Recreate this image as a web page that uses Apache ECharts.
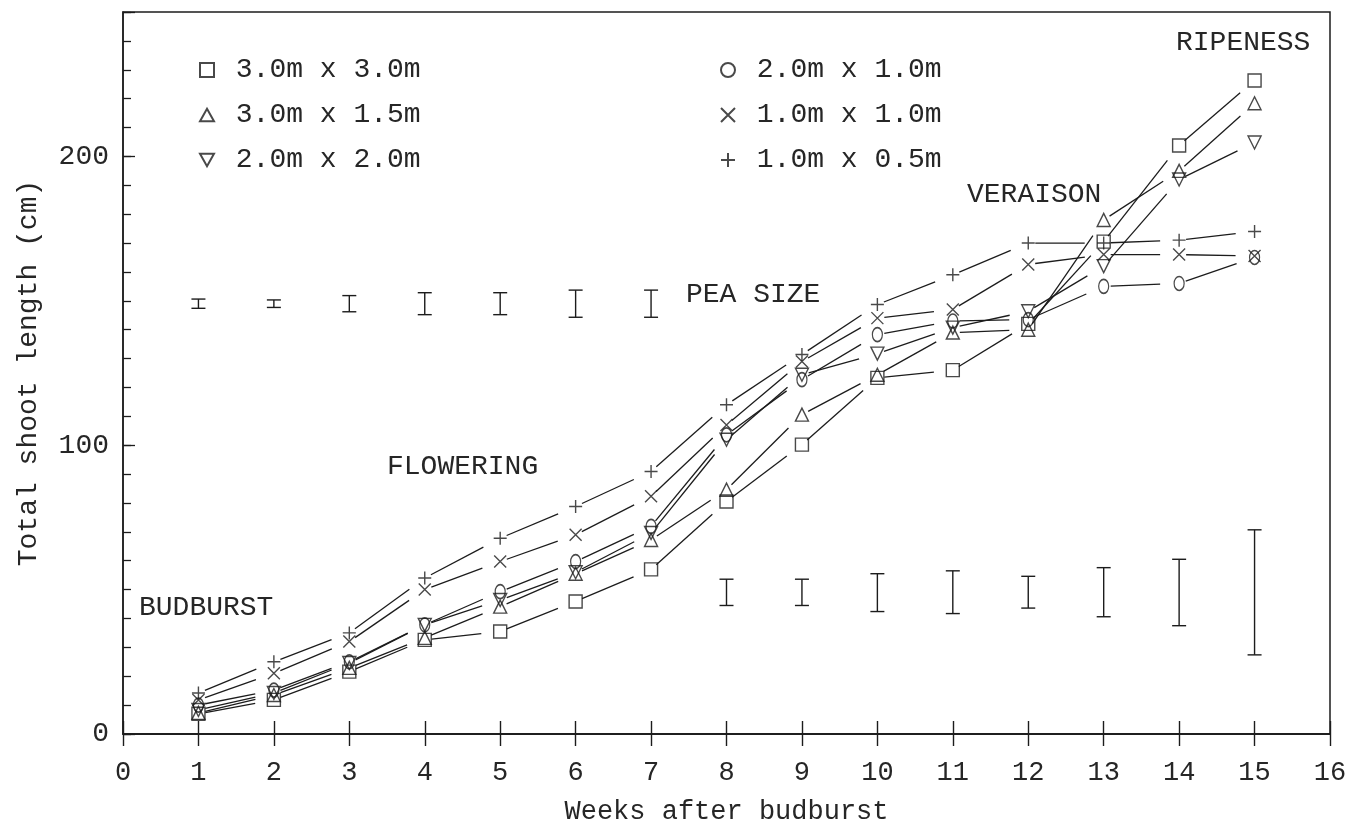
<!DOCTYPE html>
<html>
<head>
<meta charset="utf-8">
<title>Total shoot length by vine spacing</title>
<script src="https://cdn.jsdelivr.net/npm/echarts@6/dist/echarts.min.js"></script>
<style>
  html, body { margin: 0; padding: 0; background: #fff; }
  #chart { width: 1356px; height: 826px; }
</style>
</head>
<body>
<div id="chart"></div>
<script>
// Weeks after budburst
const weeks = [1, 2, 3, 4, 5, 6, 7, 8, 9, 10, 11, 12, 13, 14, 15];

// Total shoot length (cm) per vine spacing
const spacing30x30 = [7, 11.8, 21.6, 32.6, 35.5, 45.9, 57, 80.5, 100.2, 123.3, 126, 142, 170.5, 203.8, 226.3];
const spacing30x15 = [7.3, 13.5, 22.9, 33.3, 44.1, 55.5, 67.2, 84.6, 110.6, 124.4, 139, 140, 178, 195, 218.4];
const spacing20x20 = [8.3, 14.2, 24.6, 37.8, 46.4, 56, 69.6, 101.9, 124.4, 131.7, 140.7, 146.4, 162, 192, 204.8];
const spacing20x10 = [10, 15.2, 25, 37.8, 49.3, 59.7, 71.9, 103.6, 122.7, 138.3, 143, 143.5, 155, 156, 165];
const spacing10x10 = [11.8, 21, 32, 50, 59.7, 69, 82.3, 107, 129, 144, 147, 162.6, 166, 166, 165.5];
const spacing10x05 = [14.2, 25, 35, 54, 67.8, 78.8, 90.9, 114, 131.4, 148.7, 159, 170, 170, 171, 174];

const seriesNames = ['3.0m x 3.0m', '3.0m x 1.5m', '2.0m x 2.0m', '2.0m x 1.0m', '1.0m x 1.0m', '1.0m x 0.5m'];

// Error bars: weeks, bar bottom, bar top
const barWeeks = [1, 2, 3, 4, 5, 6, 7, 8, 9, 10, 11, 12, 13, 14, 15];
const barLow  = [147.4, 147.7, 146.2, 145.2, 145.2, 144.3, 144.3, 44.5, 44.5, 42.4, 41.7, 43.6, 40.6, 37.5, 27.4];
const barHigh = [150.6, 150.3, 151.8, 152.8, 152.8, 153.7, 153.7, 53.6, 53.6, 55.5, 56.5, 54.6, 57.6, 60.5, 70.7];

// Stage annotations
const stageLabels = ['RIPENESS', 'VERAISON', 'PEA SIZE', 'FLOWERING', 'BUDBURST'];

// Tick labels
const xTicks = [0, 1, 2, 3, 4, 5, 6, 7, 8, 9, 10, 11, 12, 13, 14, 15, 16];
const yTicks = [0, 100, 200];

const FONT = '"Liberation Mono", "DejaVu Sans Mono", monospace';
const INK = '#1c1c1c';
const TEXT_INK = '#262626';

const allValues = [spacing30x30, spacing30x15, spacing20x20, spacing20x10, spacing10x10, spacing10x05];
const symbols = [
  'rect',
  'path://M5,0L10,9L0,9Z',
  'path://M0,0L10,0L5,9Z',
  'circle',
  'path://M0,0L10,10M10,0L0,10',
  'path://M5,0L5,10M0,5L10,5'
];
const symbolSizes = [13, 13, 13, [10, 14], 12, 13];

const chart = echarts.init(document.getElementById('chart'), null, { renderer: 'canvas' });

// Connecting segments stop short of the markers at both ends
function segmentItem(params, api) {
  const p0 = api.coord([api.value(0), api.value(1)]);
  const p1 = api.coord([api.value(2), api.value(3)]);
  const dx = p1[0] - p0[0], dy = p1[1] - p0[1];
  const len = Math.sqrt(dx * dx + dy * dy) || 1;
  const ux = dx / len, uy = dy / len;
  const s = 7, e = 19;
  if (len <= s + e) return null;
  return {
    type: 'line',
    shape: { x1: p0[0] + ux * s, y1: p0[1] + uy * s, x2: p1[0] - ux * e, y2: p1[1] - uy * e },
    style: { stroke: INK, lineWidth: 1.3 }
  };
}

function errorBarItem(params, api) {
  const x = api.value(0);
  const lo = api.coord([x, api.value(1)]);
  const hi = api.coord([x, api.value(2)]);
  const half = 7;
  const st = { stroke: INK, lineWidth: 1.4 };
  return {
    type: 'group',
    children: [
      { type: 'line', shape: { x1: lo[0], y1: lo[1], x2: hi[0], y2: hi[1] }, style: st },
      { type: 'line', shape: { x1: lo[0] - half, y1: lo[1], x2: lo[0] + half, y2: lo[1] }, style: st },
      { type: 'line', shape: { x1: hi[0] - half, y1: hi[1], x2: hi[0] + half, y2: hi[1] }, style: st }
    ]
  };
}

const series = [];
allValues.forEach((vals, k) => {
  const segs = [];
  for (let i = 0; i < weeks.length - 1; i++) {
    segs.push([weeks[i], vals[i], weeks[i + 1], vals[i + 1]]);
  }
  series.push({
    type: 'custom',
    renderItem: segmentItem,
    encode: { x: [0, 2], y: [1, 3] },
    data: segs,
    silent: true,
    z: 2
  });
  series.push({
    name: seriesNames[k],
    type: 'scatter',
    data: weeks.map((w, i) => [w, vals[i]]),
    symbol: symbols[k],
    symbolSize: symbolSizes[k],
    itemStyle: { color: 'rgba(0,0,0,0)', borderColor: INK, borderWidth: 1.4 },
    emphasis: { disabled: true },
    z: 3
  });
});

series.push({
  type: 'custom',
  renderItem: errorBarItem,
  encode: { x: 0, y: [1, 2] },
  data: barWeeks.map((w, i) => [w, barLow[i], barHigh[i]]),
  silent: true,
  z: 2
});

const legendText = { fontFamily: FONT, fontSize: 28, color: TEXT_INK, lineHeight: 30 };

const stagePos = [
  { x: 1176, y: 43 },
  { x: 967, y: 195 },
  { x: 686, y: 295 },
  { x: 387, y: 467 },
  { x: 139, y: 608 }
];

const option = {
  backgroundColor: '#fff',
  animation: false,
  grid: {
    left: 123, right: 26, top: 12, bottom: 92,
    outerBoundsMode: 'none',
    containLabel: false,
    show: true, borderColor: INK, borderWidth: 1.5, backgroundColor: 'transparent'
  },
  xAxis: [
    {
      type: 'value', min: 0, max: 16, interval: 1, position: 'bottom',
      name: 'Weeks after budburst', nameLocation: 'middle', nameGap: 64,
      nameTextStyle: { fontFamily: FONT, fontSize: 27, color: TEXT_INK },
      axisLine: { show: true, lineStyle: { color: INK, width: 1.5 } },
      axisTick: { show: true, inside: true, length: 13, lineStyle: { color: INK, width: 1.4 } },
      axisLabel: {
        margin: 25, fontFamily: FONT, fontSize: 27, color: TEXT_INK,
        formatter: v => (xTicks.indexOf(v) >= 0 ? String(v) : '')
      },
      splitLine: { show: false }
    },
    {
      type: 'value', min: 0, max: 16, interval: 1, position: 'top',
      axisLine: { show: true, lineStyle: { color: INK, width: 1.5 } },
      axisTick: { show: true, inside: true, length: 12, lineStyle: { color: INK, width: 1.4 } },
      axisLabel: { show: false },
      splitLine: { show: false }
    }
  ],
  yAxis: [
    {
      type: 'value', min: 0, max: 250, interval: 10, position: 'left',
      axisLine: { show: true, lineStyle: { color: INK, width: 1.5 } },
      axisTick: { show: true, inside: true, length: 8, lineStyle: { color: INK, width: 1.3 } },
      axisLabel: { show: false },
      splitLine: { show: false }
    },
    {
      type: 'value', min: 0, max: 250, interval: 100, position: 'left',
      name: 'Total shoot length (cm)', nameLocation: 'middle', nameGap: 80, nameRotate: 90,
      nameTextStyle: { fontFamily: FONT, fontSize: 28, color: TEXT_INK },
      axisLine: { show: false },
      axisTick: { show: true, inside: true, length: 12, lineStyle: { color: INK, width: 1.3 } },
      axisLabel: {
        margin: 14, fontFamily: FONT, fontSize: 28, color: TEXT_INK,
        formatter: v => (yTicks.indexOf(v) >= 0 ? String(v) : '')
      },
      splitLine: { show: false }
    }
  ],
  legend: [
    {
      data: seriesNames.slice(0, 3),
      orient: 'vertical', left: 194, top: 50,
      itemWidth: 14, itemHeight: 14, itemGap: 15,
      selectedMode: false,
      formatter: n => ' ' + n,
      textStyle: legendText
    },
    {
      data: seriesNames.slice(3),
      orient: 'vertical', left: 715, top: 50,
      itemWidth: 14, itemHeight: 14, itemGap: 15,
      selectedMode: false,
      formatter: n => ' ' + n,
      textStyle: legendText
    }
  ],
  graphic: stageLabels.map((t, i) => ({
    type: 'text',
    x: stagePos[i].x,
    y: stagePos[i].y,
    silent: true,
    style: {
      text: t,
      font: '28px ' + FONT,
      fill: TEXT_INK,
      verticalAlign: 'middle',
      align: 'left'
    }
  })),
  series: series
};

chart.setOption(option);
</script>
</body>
</html>
